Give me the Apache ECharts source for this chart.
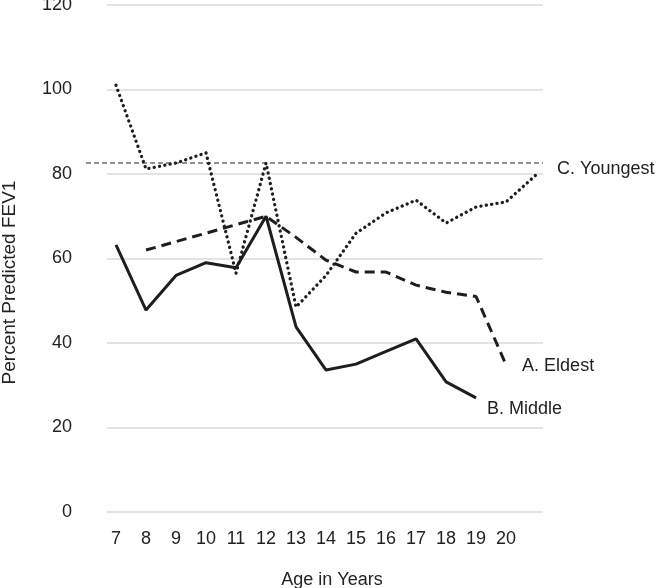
<!DOCTYPE html>
<html>
<head>
<meta charset="utf-8">
<script src="https://cdn.jsdelivr.net/npm/echarts@6/dist/echarts.min.js"></script>
<style>
html,body{margin:0;padding:0;background:#fff;}
#chart{width:660px;height:588px;}
</style>
</head>
<body>
<div id="chart"></div>
<script>
// ---- data ----
const ageTicks = [7, 8, 9, 10, 11, 12, 13, 14, 15, 16, 17, 18, 19, 20];
const youngestAges = [7, 8, 9, 10, 11, 12, 13, 14, 15, 16, 17, 18, 19, 20, 21];
const youngestFEV1 = [101, 81.2, 82.6, 85, 56.5, 82.6, 48.5, 56, 66, 70.8, 73.8, 68.4, 72.2, 73.4, 79.8];
const middleAges = [7, 8, 9, 10, 11, 12, 13, 14, 15, 16, 17, 18, 19];
const middleFEV1 = [63.2, 47.8, 56, 59, 57.8, 70, 43.8, 33.6, 35, 38, 41, 30.8, 27];
const eldestAges = [8, 9, 10, 11, 12, 13, 14, 15, 16, 17, 18, 19, 20];
const eldestFEV1 = [62, 64, 66, 68, 70, 65, 59.6, 56.8, 56.8, 53.7, 52, 51, 34.8];
const referenceFEV1 = 82.6;
const yTicks = [0, 20, 40, 60, 80, 100, 120];

const pair = (xs, ys) => xs.map((x, i) => [x, ys[i]]);
const FONT = 'Liberation Sans, Arial, sans-serif';
const INK = '#1e1e1e';

const chart = echarts.init(document.getElementById('chart'));
chart.setOption({
  animation: false,
  backgroundColor: '#fff',
  textStyle: { fontFamily: FONT },
  grid: [
    { left: 107, right: 117, top: 5, bottom: 76, outerBoundsMode: 'none', containLabel: false },
    { left: 86, right: 117, top: 5, bottom: 76, outerBoundsMode: 'none', containLabel: false }
  ],
  xAxis: [
    {
      gridIndex: 0, type: 'value', min: 6.7, max: 21.23,
      axisLine: { show: false }, axisTick: { show: false }, splitLine: { show: false },
      axisLabel: { customValues: ageTicks, fontSize: 18, color: '#222', margin: 18, fontFamily: FONT },
      name: 'Age in Years', nameLocation: 'middle', nameGap: 59,
      nameTextStyle: { fontSize: 18, color: '#222', fontFamily: FONT, padding: [0, 0, 0, 14] }
    },
    { gridIndex: 1, type: 'value', min: 0, max: 1, show: false }
  ],
  yAxis: [
    {
      gridIndex: 0, type: 'value', min: yTicks[0], max: yTicks[yTicks.length - 1], interval: 20,
      axisLine: { show: false }, axisTick: { show: false },
      splitLine: { show: true, lineStyle: { color: '#dadada', width: 1.5 } },
      axisLabel: { fontSize: 18, color: '#222', margin: 35, fontFamily: FONT },
      name: 'Percent Predicted FEV1', nameLocation: 'middle', nameGap: 88,
      nameTextStyle: { fontSize: 19, color: '#222', fontFamily: FONT, padding: [0, 48, 0, 0] }
    },
    { gridIndex: 1, type: 'value', min: 0, max: 120, show: false }
  ],
  series: [
    {
      name: 'reference', type: 'line', xAxisIndex: 1, yAxisIndex: 1,
      data: [[0, referenceFEV1], [1, referenceFEV1]],
      symbol: 'none', silent: true,
      lineStyle: { color: '#222', width: 1, type: [5, 3] }
    },
    {
      name: 'C. Youngest', type: 'line', data: pair(youngestAges, youngestFEV1),
      symbol: 'none',
      lineStyle: { color: INK, width: 3.3, type: [0.1, 5.3], cap: 'round' },
      endLabel: { show: true, formatter: 'C. Youngest', fontSize: 18, color: '#222', fontFamily: FONT, distance: 0, offset: [21, -6] }
    },
    {
      name: 'B. Middle', type: 'line', data: pair(middleAges, middleFEV1),
      symbol: 'none',
      lineStyle: { color: INK, width: 3 },
      endLabel: { show: true, formatter: 'B. Middle', fontSize: 18, color: '#222', fontFamily: FONT, distance: 0, offset: [11, 11] }
    },
    {
      name: 'A. Eldest', type: 'line', data: pair(eldestAges, eldestFEV1),
      symbol: 'none',
      lineStyle: { color: INK, width: 3, type: [10, 6] },
      endLabel: { show: true, formatter: 'A. Eldest', fontSize: 18, color: '#222', fontFamily: FONT, distance: 0, offset: [16, 1] }
    }
  ]
});
</script>
</body>
</html>
